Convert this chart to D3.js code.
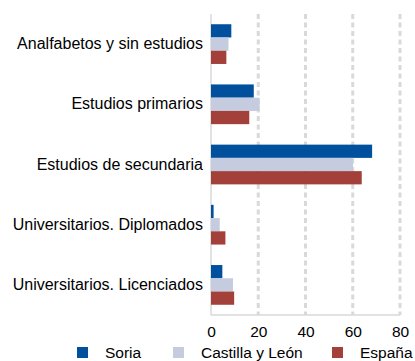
<!DOCTYPE html>
<html>
<head>
<meta charset="utf-8">
<script src="https://cdn.jsdelivr.net/npm/d3@7"></script>
<style>
  html, body { margin: 0; padding: 0; background: #fff; }
  svg { display: block; font-family: "Liberation Sans", Arial, sans-serif; }
</style>
</head>
<body>
<svg id="chart" width="415" height="361"></svg>
<script>
// Nivel de estudios (%)
const categories = [
  "Analfabetos y sin estudios",
  "Estudios primarios",
  "Estudios de secundaria",
  "Universitarios. Diplomados",
  "Universitarios. Licenciados"
];
const seriesNames = ["Soria", "Castilla y León", "España"];
const soria = [8.6, 18.1, 68.2, 1.1, 4.8];
const castillaLeon = [7.4, 20.6, 60.1, 3.7, 9.3];
const espana = [6.5, 16.2, 63.8, 6.1, 9.8];
const xTicks = [0, 20, 40, 60, 80];
const colors = ["#00509e", "#c5cce0", "#a4403a"];

const seriesValues = [soria, castillaLeon, espana];
const rows = categories.map((c, i) => ({
  category: c,
  values: seriesNames.map((s, k) => ({ series: s, value: seriesValues[k][i] }))
}));

const svg = d3.select("#chart");
const margin = { left: 211, right: 15, top: 14, bottom: 46 };
const W = 415, H = 361;

const x = d3.scaleLinear().domain([0, 80]).range([margin.left, W - margin.right]);
const y0 = d3.scaleBand().domain(categories)
  .range([margin.top, H - margin.bottom])
  .paddingInner(0.34).paddingOuter(0.17);
const y1 = d3.scaleBand().domain(seriesNames).range([0, y0.bandwidth()]);
const color = d3.scaleOrdinal().domain(seriesNames).range(colors);

// Dashed vertical gridlines
svg.append("g")
  .selectAll("line")
  .data(xTicks.filter(t => t > 0))
  .join("line")
  .attr("x1", d => x(d)).attr("x2", d => x(d))
  .attr("y1", margin.top).attr("y2", H - margin.bottom)
  .attr("stroke", "#d9d9d9")
  .attr("stroke-width", 3)
  .attr("stroke-dasharray", "5,3.5");

// Axis lines
svg.append("line")
  .attr("x1", x(0)).attr("x2", x(0))
  .attr("y1", margin.top).attr("y2", H - margin.bottom)
  .attr("stroke", "#d9d9d9").attr("stroke-width", 1.5);
svg.append("line")
  .attr("x1", x(0)).attr("x2", x(80))
  .attr("y1", H - margin.bottom).attr("y2", H - margin.bottom)
  .attr("stroke", "#d9d9d9").attr("stroke-width", 1.5);

// Bars
const groups = svg.append("g")
  .selectAll("g")
  .data(rows)
  .join("g")
  .attr("transform", d => `translate(0,${y0(d.category)})`);
groups.selectAll("rect")
  .data(d => d.values)
  .join("rect")
  .attr("x", x(0))
  .attr("y", d => y1(d.series))
  .attr("width", d => x(d.value) - x(0))
  .attr("height", y1.bandwidth())
  .attr("fill", d => color(d.series));

// Category labels
const yAxis = d3.axisLeft(y0).tickSize(0).tickPadding(8);
svg.append("g")
  .attr("transform", `translate(${x(0)},0)`)
  .call(yAxis)
  .call(g => g.select(".domain").remove())
  .selectAll("text")
  .attr("font-size", 16)
  .attr("font-family", "Liberation Sans, Arial, sans-serif")
  .attr("fill", "#000");

// X tick labels
const xAxis = d3.axisBottom(x).tickValues(xTicks).tickSize(0).tickPadding(11);
svg.append("g")
  .attr("transform", `translate(0,${H - margin.bottom})`)
  .call(xAxis)
  .call(g => g.select(".domain").remove())
  .selectAll("text")
  .attr("font-size", 15.5)
  .attr("font-family", "Liberation Sans, Arial, sans-serif")
  .attr("fill", "#000");

// Legend
const legendX = [77, 173, 332];
const legend = svg.append("g")
  .selectAll("g")
  .data(seriesNames)
  .join("g")
  .attr("transform", (d, i) => `translate(${legendX[i]},347)`);
legend.append("rect")
  .attr("width", 11).attr("height", 11)
  .attr("fill", d => color(d));
legend.append("text")
  .attr("x", 28).attr("y", 11)
  .attr("font-size", 15.5)
  .attr("fill", "#000")
  .text(d => d);
</script>
</body>
</html>
